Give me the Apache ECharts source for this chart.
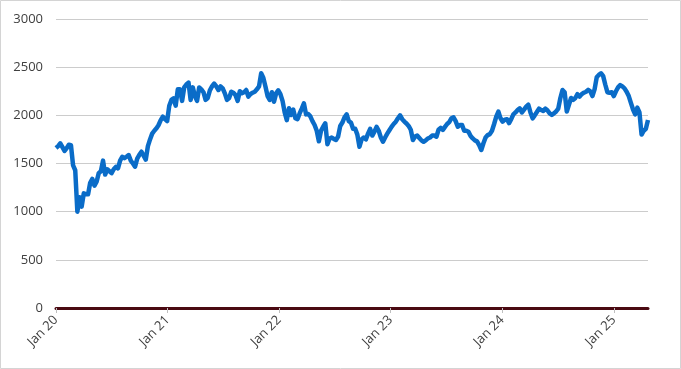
<!DOCTYPE html>
<html>
<head>
<meta charset="utf-8">
<script src="https://cdn.jsdelivr.net/npm/echarts@6/dist/echarts.min.js"></script>
<style>
html,body{margin:0;padding:0;background:#fff;}
#chart{width:681px;height:369px;}
</style>
</head>
<body>
<div id="chart"></div>
<script>
// Weekly readings starting 2020-01-01 (one value per week)
var startDate = '2020-01-01';
var seg2020 = [1661,1680,1710,1670,1630,1660,1695,1690,1480,1430,1000,1150,1052,1190,1180,1180,1300,1340,1270,1311,1400,1420,1530,1385,1440,1420,1400,1440,1465,1450,1530,1570,1555,1570,1588,1530,1500,1467,1550,1590,1622,1580,1540,1680,1750,1810,1840,1865,1900,1950,1986,1960];
var seg2021 = [1940,2100,2160,2176,2100,2270,2270,2150,2290,2320,2340,2160,2290,2200,2150,2290,2270,2240,2160,2180,2260,2300,2330,2300,2263,2300,2280,2228,2160,2180,2245,2235,2210,2150,2250,2230,2240,2263,2194,2220,2235,2245,2270,2300,2436,2390,2300,2200,2160,2240,2141,2228];
var seg2022 = [2260,2220,2150,2030,1950,2073,2003,2060,1970,1960,2020,2070,2124,2010,2015,1990,1940,1900,1840,1730,1840,1882,1917,1700,1760,1770,1755,1744,1780,1890,1925,1980,2010,1940,1925,1860,1860,1800,1674,1750,1770,1750,1810,1860,1790,1830,1880,1840,1770,1726,1770,1810];
var seg2023 = [1845,1880,1910,1934,1970,2000,1960,1935,1915,1890,1850,1744,1780,1790,1765,1740,1726,1740,1760,1770,1790,1790,1778,1850,1870,1848,1880,1910,1930,1970,1980,1940,1882,1900,1900,1840,1840,1830,1785,1760,1740,1730,1690,1640,1710,1770,1795,1805,1840,1910,1986,2038];
var seg2024 = [1969,1934,1955,1960,1920,1960,2010,2030,2055,2073,2030,2060,2090,2110,2030,1969,2000,2035,2070,2055,2045,2070,2050,2020,2005,2020,2040,2070,2180,2263,2240,2040,2110,2180,2160,2180,2220,2194,2220,2235,2245,2265,2250,2200,2270,2395,2420,2436,2410,2320,2240,2235];
var seg2025 = [2240,2200,2250,2290,2314,2300,2280,2245,2200,2130,2060,2010,2080,2030,1800,1840,1860,1952];
var tickYears = [2020,2021,2022,2023,2024,2025];
var yTicks = [0,500,1000,1500,2000,2500,3000];

var values = [].concat(seg2020, seg2021, seg2022, seg2023, seg2024, seg2025);
var t0 = Date.parse(startDate + 'T00:00:00Z');
var DAY = 86400000;
var data = values.map(function (v, i) { return [t0 + i * 7 * DAY, v]; });
var tickTimes = tickYears.map(function (y) { return Date.UTC(y, 0, 1); });

var chart = echarts.init(document.getElementById('chart'));
chart.setOption({
  animation: false,
  backgroundColor: '#ffffff',
  graphic: [{
    type: 'rect', silent: true, z: -10,
    shape: {x: 0.5, y: 0.5, width: 680, height: 368},
    style: {fill: 'none', stroke: '#d4d4d4', lineWidth: 1}
  }],
  grid: {left: 56, right: 33, top: 19, bottom: 61, containLabel: false},
  xAxis: {
    type: 'value',
    min: t0,
    max: data[data.length - 1][0],
    axisLine: {show: true, onZero: false, lineStyle: {color: '#4a0a12', width: 3}},
    axisTick: {show: true, customValues: tickTimes, length: 5, lineStyle: {color: '#bfbfbf'}},
    splitLine: {show: false},
    axisLabel: {
      customValues: tickTimes,
      rotate: 45,
      margin: 10,
      color: '#404040',
      fontFamily: 'Open Sans',
      fontSize: 13,
      formatter: function (v) {
        var y = new Date(v).getUTCFullYear();
        return 'Jan ' + String(y).slice(2);
      }
    }
  },
  yAxis: {
    type: 'value',
    min: yTicks[0],
    max: yTicks[yTicks.length - 1],
    interval: 500,
    axisLine: {show: false},
    axisTick: {show: false},
    splitLine: {show: true, lineStyle: {color: '#cccccc', width: 1}},
    axisLabel: {
      color: '#404040', fontFamily: 'Open Sans', fontSize: 13, margin: 13,
      formatter: function (v) { return String(v); }
    }
  },
  series: [{
    type: 'line',
    data: data,
    showSymbol: false,
    smooth: false,
    lineStyle: {color: '#0a6cc8', width: 4.5, join: 'round'},
    z: 3
  }]
});
</script>
</body>
</html>
